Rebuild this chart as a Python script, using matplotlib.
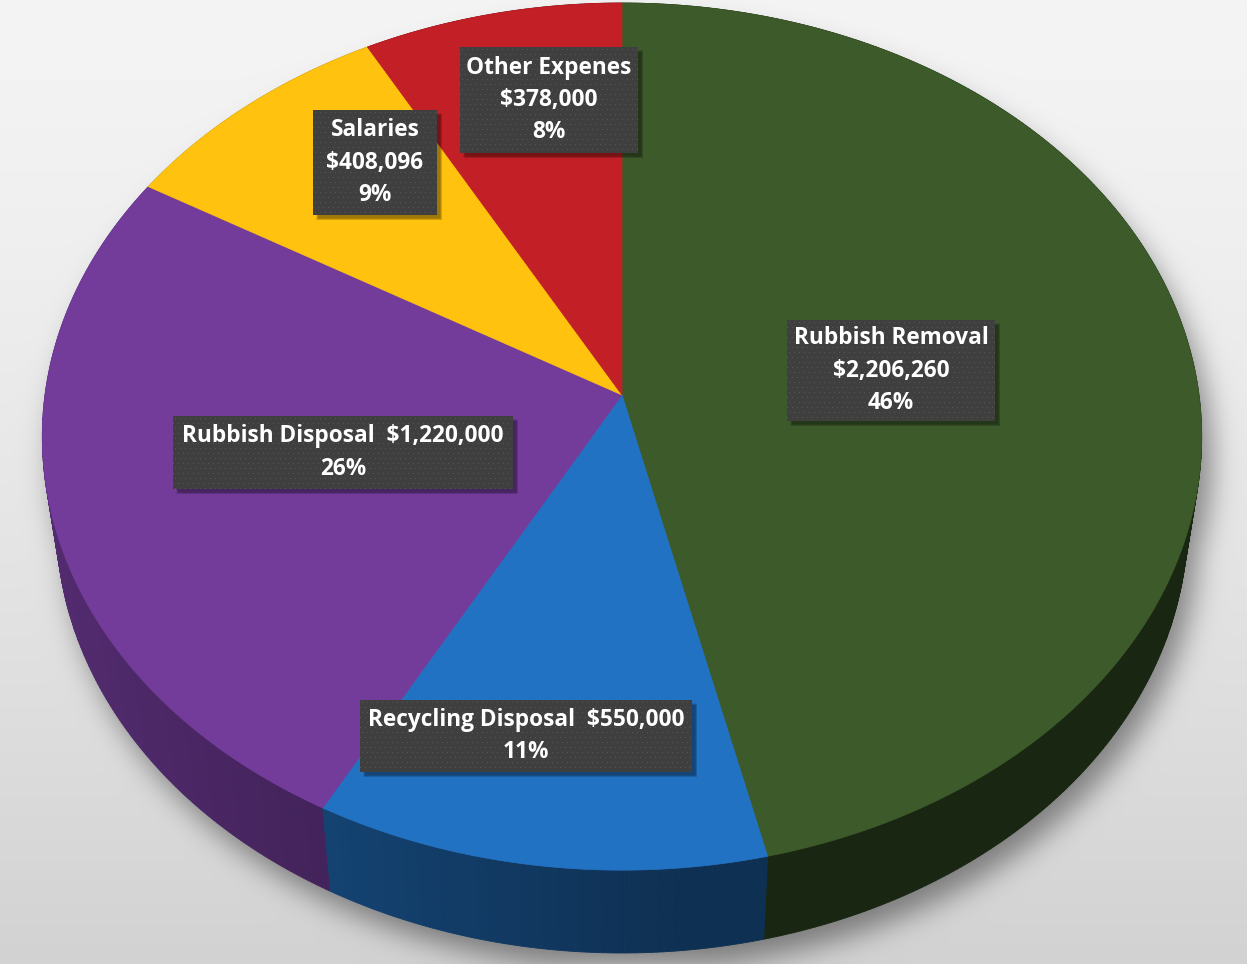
import numpy as np
import matplotlib
matplotlib.use('Agg')
import matplotlib.pyplot as plt
from matplotlib.patches import Polygon, Rectangle
from matplotlib.path import Path
from matplotlib.colors import to_rgb

# ── Budget data ───────────────────────────────────────────
categories = ['Rubbish Removal', 'Recycling Disposal', 'Rubbish Disposal',
              'Salaries', 'Other Expenes']
amounts    = [2206260, 550000, 1220000, 408096, 378000]
pct_labels = ['46%', '11%', '26%', '9%', '8%']
colors     = ['#3c5a2a', '#2272c3', '#733c9b', '#ffc20e', '#c21f26']

# label boxes (left, top, right, bottom) in pixels, and whether the
# name and amount share one line
label_boxes = [(787, 320, 995, 421), (360, 700, 692, 772),
               (173, 416, 513, 489), (313, 110, 437, 215),
               (460, 47, 638, 153)]
one_line    = [False, True, True, False, False]

W, H = 1247, 964
CX, CY = 622, 395           # pie apex on screen
FOCAL, DIST = 4016.0, 6.96  # perspective camera
ELEV = np.arcsin(0.7445)
THICK = 0.23


def project(t, z=0.0, r=1.0):
    u, v = r * np.cos(t), r * np.sin(t)
    depth = DIST + v * np.cos(ELEV) - z * np.sin(ELEV)
    xs = FOCAL * u / depth
    ys = FOCAL * (v * np.sin(ELEV) + z * np.cos(ELEV)) / depth
    return CX + xs, CY - ys


def side_shade(t):
    return np.clip(0.45 - 0.28 * np.cos(t), 0.42, 0.8)


fig = plt.figure(figsize=(W / 100, H / 100), dpi=100)
ax = fig.add_axes([0, 0, 1, 1])
ax.set_xlim(0, W)
ax.set_ylim(H, 0)
ax.axis('off')

# ── Background with soft cast shadow ──────────────────────
tt = np.linspace(0, 2 * np.pi, 721)
top_x, top_y = project(tt)
bot_x, bot_y = project(tt, -THICK)
yy, xx = np.mgrid[0:H, 0:W]
pts = np.column_stack([xx.ravel() + 0.5, yy.ravel() + 0.5])
sil = (Path(np.column_stack([top_x + 10, top_y + 22])).contains_points(pts) |
       Path(np.column_stack([bot_x + 10, bot_y + 16])).contains_points(pts))
mask = sil.reshape(H, W).astype(float)

pad = 120
big = np.pad(mask, pad)
ky = np.fft.fftfreq(big.shape[0])[:, None]
kx = np.fft.rfftfreq(big.shape[1])[None, :]
sigma = 14.0
gauss = np.exp(-2 * (np.pi * sigma) ** 2 * (kx ** 2 + ky ** 2))
blur = np.fft.irfft2(np.fft.rfft2(big) * gauss, s=big.shape)
blur = np.clip(blur[pad:-pad, pad:-pad], 0, 1)

base = 244 - 34 * (yy / H) ** 1.4
bg = base * (1 - 0.42 * blur)
bg = np.repeat((bg / 255)[:, :, None], 3, axis=2)
ax.imshow(bg, extent=(0, W, H, 0), zorder=0, interpolation='bilinear')

# ── 3D pie ────────────────────────────────────────────────
fracs = np.array(amounts) / np.sum(amounts)
bounds = np.pi / 2 - 2 * np.pi * np.concatenate([[0], np.cumsum(fracs)])

# side facets, far ones first
facets = []
for i, c in enumerate(colors):
    t0, t1 = bounds[i + 1], bounds[i]
    n = max(2, int(np.degrees(t1 - t0) * 2))
    ts = np.linspace(t0, t1, n + 1)
    for a, b in zip(ts[:-1], ts[1:]):
        facets.append((np.sin((a + b) / 2), a, b, c))
facets.sort(key=lambda f: -f[0])
for _, a, b, c in facets:
    mid = (a + b) / 2
    rgb = np.array(to_rgb(c)) * side_shade(mid)
    xa, ya = project(np.array([a, b]))
    xb, yb = project(np.array([b, a]), -THICK)
    ax.add_patch(Polygon(np.column_stack([np.r_[xa, xb], np.r_[ya, yb]]),
                         closed=True, facecolor=rgb, edgecolor=rgb,
                         linewidth=0.6, zorder=2))

# top face wedges
for i, c in enumerate(colors):
    ts = np.linspace(bounds[i + 1], bounds[i], 200)
    px, py = project(ts)
    ax.add_patch(Polygon(np.column_stack([np.r_[CX, px], np.r_[CY, py]]),
                         closed=True, facecolor=c, edgecolor=c,
                         linewidth=0.5, zorder=3))

# ── Data labels ───────────────────────────────────────────
for i, name in enumerate(categories):
    x0, y0, x1, y1 = label_boxes[i]
    w, h = x1 - x0, y1 - y0
    # drop shadow
    for k in range(5):
        ax.add_patch(Rectangle((x0 + 3 + k * 0.6, y0 + 3 + k * 0.6),
                               w + 2 - k, h + 2 - k,
                               facecolor='black', edgecolor='none',
                               alpha=0.09, zorder=4))
    # dotted dark fill
    tex = np.full((h, w, 3), 0.25)
    ty, tx = np.mgrid[0:h, 0:w]
    dots = (ty % 5 == 2) & ((tx + (ty // 5 % 2) * 2) % 5 == 2)
    tex[dots] = 0.34
    ax.imshow(tex, extent=(x0, x1, y1, y0), zorder=5,
              interpolation='bilinear')

    amt = f'${amounts[i]:,}'
    if one_line[i]:
        lines = [f'{name}  {amt}', pct_labels[i]]
    else:
        lines = [name, amt, pct_labels[i]]
    yc = (y0 + y1) / 2
    for j, ln in enumerate(lines):
        ax.text((x0 + x1) / 2, yc + (j - (len(lines) - 1) / 2) * 32.5, ln,
                ha='center', va='center', color='white', fontsize=16.3,
                fontweight='bold', family=['Open Sans', 'DejaVu Sans'],
                zorder=6)

fig.savefig('out.png', dpi=100)
